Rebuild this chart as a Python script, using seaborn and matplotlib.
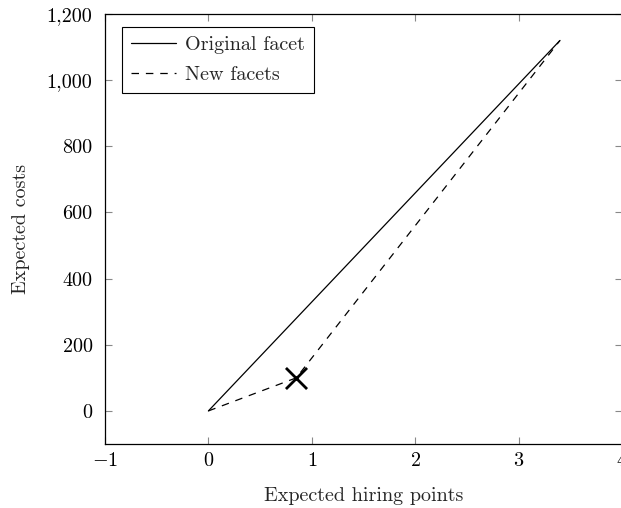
import matplotlib
matplotlib.use("Agg")
import matplotlib.pyplot as plt
import seaborn as sns
import pandas as pd
from matplotlib.ticker import FuncFormatter, FixedLocator

# Data
orig_x = [0.0, 3.4]
orig_y = [0.0, 1120.0]
new_x = [0.0, 0.85, 3.4]
new_y = [0.0, 100.0, 1120.0]
point_x = [0.85]
point_y = [100.0]
x_ticks = [-1, 0, 1, 2, 3, 4]
y_ticks = [0, 200, 400, 600, 800, 1000, 1200]

sns.set_theme(style="ticks")
plt.rcParams["font.family"] = ["cmr10", "DejaVu Serif"]
plt.rcParams["mathtext.fontset"] = "cm"
plt.rcParams["axes.formatter.use_mathtext"] = True
plt.rcParams["axes.unicode_minus"] = True

FS = 14.5

fig = plt.figure(figsize=(6.21, 5.08), dpi=100)
ax = fig.add_axes([105 / 621, 64 / 508, 517 / 621, 430 / 508])

df_orig = pd.DataFrame({"x": orig_x, "y": orig_y})
df_new = pd.DataFrame({"x": new_x, "y": new_y})
df_pt = pd.DataFrame({"x": point_x, "y": point_y})

sns.lineplot(data=df_orig, x="x", y="y", ax=ax, color="black", linewidth=0.9,
             label="Original facet", sort=False, estimator=None)
sns.lineplot(data=df_new, x="x", y="y", ax=ax, color="black", linewidth=0.9,
             linestyle=(0, (6, 5.5)), label="New facets", sort=False, estimator=None)
sns.scatterplot(data=df_pt, x="x", y="y", ax=ax, marker="x", s=230,
                color="black", linewidth=2.0, legend=False, zorder=5)

ax.set_xlim(-1, 4)
ax.set_ylim(-100, 1200)
ax.xaxis.set_major_locator(FixedLocator(x_ticks))
ax.yaxis.set_major_locator(FixedLocator(y_ticks))

def xfmt(v, pos):
    v = int(round(v))
    return r"$-%d$" % abs(v) if v < 0 else r"$%d$" % v

def yfmt(v, pos):
    return "{:,}".format(int(round(v)))

ax.xaxis.set_major_formatter(FuncFormatter(xfmt))
ax.yaxis.set_major_formatter(FuncFormatter(yfmt))

ax.tick_params(axis="both", which="major", direction="in", length=5, width=0.8,
               color="#888888", labelsize=FS, top=True, right=True,
               labelcolor="black")
ax.tick_params(axis="x", pad=6)
ax.tick_params(axis="y", pad=9)
for s in ax.spines.values():
    s.set_color("black")
    s.set_linewidth(0.9)

ax.set_xlabel("Expected hiring points", fontsize=FS, labelpad=12)
ax.set_ylabel("Expected costs", fontsize=FS)
ax.yaxis.set_label_coords(-0.145, 0.5)

leg = ax.legend(loc="upper left", bbox_to_anchor=(0.014, 0.993), fontsize=FS,
                frameon=True, fancybox=False, edgecolor="black", framealpha=1,
                handlelength=2.2, borderpad=0.45, labelspacing=0.6, handletextpad=0.45)
leg.get_frame().set_linewidth(0.8)

fig.savefig("out.png", dpi=100)
